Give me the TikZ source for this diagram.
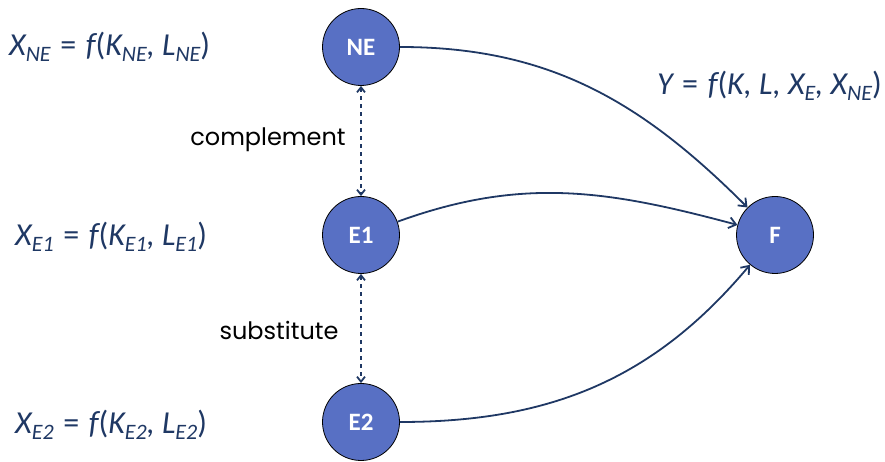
\documentclass[tikz,border=0pt]{standalone}
\usepackage{fontspec}
\setmainfont{Carlito}
\newfontfamily\handfont{Poppins}
\usetikzlibrary{arrows.meta}
\definecolor{navy}{RGB}{31,56,100}
\definecolor{nodefill}{RGB}{88,112,196}
\newcommand{\sbs}[1]{\raisebox{-0.4ex}{\fontsize{22}{22}\selectfont\itshape #1}}
\newcommand{\eqsign}{\upshape\hspace{0.3em}=\hspace{0.3em}}
\tikzset{
  circ/.style={circle, draw=black, line width=0.8pt, fill=nodefill, minimum size=77pt, inner sep=0pt,
    text=white, font=\fontsize{25}{25}\selectfont\bfseries},
  formula/.style={text=navy, font=\fontsize{32}{32}\selectfont, inner sep=0pt},
  hand/.style={text=black, font=\handfont\fontsize{24}{24}\selectfont, inner sep=0pt},
  flow/.style={draw=navy, line width=1.8pt, -{Straight Barb[length=7pt,width=11pt]}},
  rel/.style={draw=navy, line width=1.8pt, dashed, dash pattern=on 4pt off 4pt, {Straight Barb[length=5pt,width=8pt]}-{Straight Barb[length=5pt,width=8pt]}}
}
\begin{document}
\begin{tikzpicture}[x=1pt,y=1pt]
\useasboundingbox (0,0) rectangle (885,462);
\node[circ] (NE) at (361,415) {NE};
\node[circ] (E1) at (361,227) {E1};
\node[circ] (E2) at (361,40) {E2};
\node[circ] (F) at (775,227) {F};
\node[formula, anchor=west] (fne) at (9,415) {\itshape X\sbs{NE}\eqsign\itshape f\upshape(\itshape K\sbs{NE}, L\sbs{NE}\upshape)};
\node[formula, anchor=west] (fe1) at (15,225) {\itshape X\sbs{E1}\eqsign\itshape f\upshape(\itshape K\sbs{E1}, L\sbs{E1}\upshape)};
\node[formula, anchor=west] (fe2) at (15,37) {\itshape X\sbs{E2}\eqsign\itshape f\upshape(\itshape K\sbs{E2}, L\sbs{E2}\upshape)};
\node[formula, anchor=east] (fy) at (882,376) {\itshape Y\eqsign\itshape f\upshape(\itshape K, L, X\sbs{E}, X\sbs{NE}\upshape)};
\node[hand] (comp) at (268,322) {complement};
\node[hand] (subs) at (279,132) {substitute};
\draw[rel] (NE) -- (E1);
\draw[rel] (E1) -- (E2);
\draw[flow] (NE) to[out=0, in=135] (F);
\draw[flow] (E1) to[out=20, in=165] (F);
\draw[flow] (E2) to[out=0, in=-130] (F);
\end{tikzpicture}
\end{document}
